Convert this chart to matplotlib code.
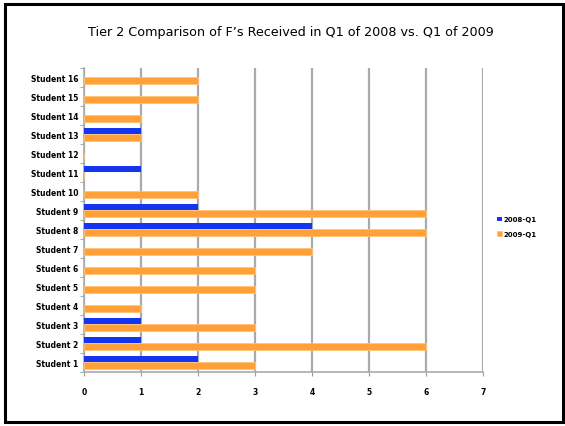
import matplotlib
matplotlib.use("Agg")
import matplotlib.pyplot as plt
from matplotlib.patches import Rectangle
import numpy as np

categories = ["Student 1", "Student 2", "Student 3", "Student 4", "Student 5", "Student 6",
              "Student 7", "Student 8", "Student 9", "Student 10", "Student 11", "Student 12",
              "Student 13", "Student 14", "Student 15", "Student 16"]
q1_2008 = [2, 1, 1, 0, 0, 0, 0, 4, 2, 0, 1, 0, 1, 0, 0, 0]
q1_2009 = [3, 6, 3, 1, 3, 3, 4, 6, 6, 2, 0, 0, 1, 1, 2, 2]
series_labels = ["2008-Q1", "2009-Q1"]
xticks = [0, 1, 2, 3, 4, 5, 6, 7]

fig = plt.figure(figsize=(5.65, 4.27), dpi=100)
fig.patches.append(Rectangle((0.008, 0.009), 0.988, 0.98, transform=fig.transFigure,
                             fill=False, edgecolor="black", linewidth=2.2))
ax = fig.add_axes([0.1487, 0.127, 0.706, 0.712])

y = np.arange(len(categories))
h = 0.34
ax.barh(y + 0.17, q1_2008, height=h, color="#1434F0", label=series_labels[0], zorder=3)
ax.barh(y - 0.17, q1_2009, height=h, color="#FFA136", edgecolor="#FFC27A", linewidth=0.6,
        label=series_labels[1], zorder=3)

ax.set_xlim(0, 7)
ax.set_ylim(-0.5, 15.5)
ax.set_xticks(xticks)
ax.set_xticklabels([str(t) for t in xticks], fontsize=5.5, fontweight="bold")
ax.set_yticks(y)
ax.set_yticklabels(categories, fontsize=5.5, fontweight="bold")
ax.set_yticks(np.arange(-0.5, 16, 1), minor=True)
ax.tick_params(axis="y", which="major", length=0, pad=4)
ax.tick_params(axis="y", which="minor", length=3, color="#999999")
ax.tick_params(axis="x", length=3, color="#999999", pad=8)
ax.grid(axis="x", color="#AAAAAA", linewidth=1.6, zorder=0)
for s in ["top", "right"]:
    ax.spines[s].set_visible(False)
for s in ["left", "bottom"]:
    ax.spines[s].set_color("#AAAAAA")
    ax.spines[s].set_linewidth(1.2)

leg = fig.legend(loc="center left", bbox_to_anchor=(0.868, 0.467), frameon=False,
                 prop={"size": 5, "weight": "bold"}, handlelength=0.7, handleheight=0.7,
                 handletextpad=0.3, labelspacing=1.2)

fig.text(0.515, 0.923, "Tier 2 Comparison of F\u2019s Received in Q1 of 2008 vs. Q1 of 2009",
         ha="center", va="center", fontsize=9.2, family="DejaVu Sans")

fig.savefig("out.png", dpi=100)
